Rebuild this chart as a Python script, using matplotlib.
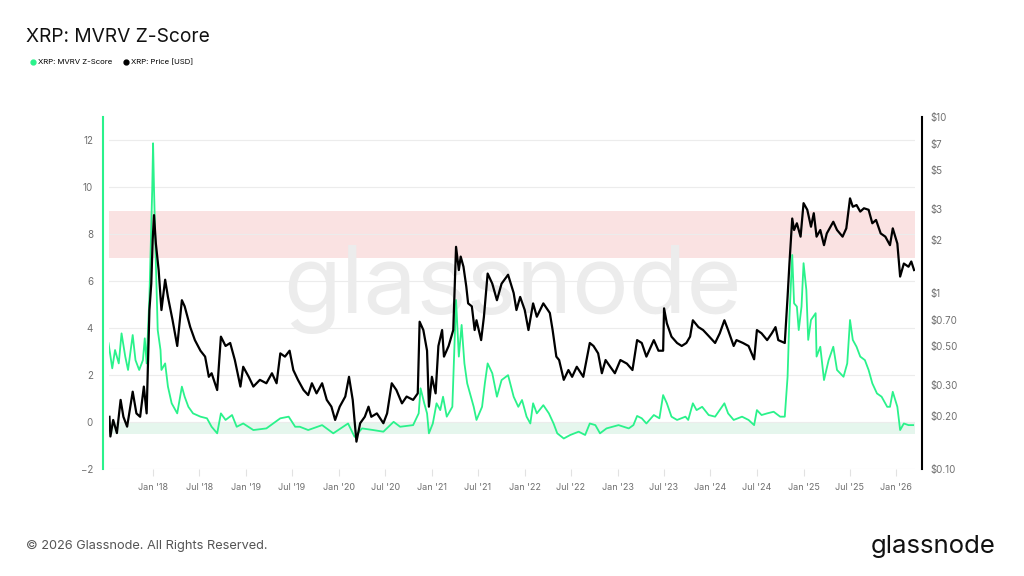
import datetime as dt

import matplotlib
matplotlib.use("Agg")
import matplotlib.pyplot as plt
import matplotlib.dates as mdates
from matplotlib.lines import Line2D

# ---- data (decimal year, value) ----
z_years = [
    2017.52, 2017.56, 2017.59, 2017.63, 2017.66, 2017.70, 2017.73, 2017.78, 2017.81, 2017.85,
    2017.89, 2017.91, 2017.93, 2017.96, 2017.99, 2018.00, 2018.01, 2018.03, 2018.05, 2018.08,
    2018.09, 2018.13, 2018.16, 2018.20, 2018.26, 2018.31, 2018.34, 2018.38, 2018.43, 2018.51,
    2018.58, 2018.63, 2018.69, 2018.73, 2018.78, 2018.85, 2018.90, 2018.97, 2019.08, 2019.22,
    2019.37, 2019.46, 2019.53, 2019.58, 2019.67, 2019.82, 2019.94, 2020.10, 2020.17, 2020.25,
    2020.37, 2020.48, 2020.59, 2020.66, 2020.80, 2020.86, 2020.88, 2020.92, 2020.95, 2020.97,
    2021.01, 2021.05, 2021.09, 2021.12, 2021.16, 2021.22, 2021.26, 2021.29, 2021.32, 2021.35,
    2021.38, 2021.41, 2021.45, 2021.48, 2021.54, 2021.57, 2021.60, 2021.65, 2021.70, 2021.75,
    2021.82, 2021.88, 2021.93, 2021.97, 2022.02, 2022.06, 2022.09, 2022.13, 2022.20, 2022.26,
    2022.31, 2022.35, 2022.42, 2022.49, 2022.58, 2022.65, 2022.70, 2022.76, 2022.81, 2022.88,
    2023.01, 2023.12, 2023.17, 2023.21, 2023.26, 2023.31, 2023.39, 2023.45, 2023.49, 2023.53,
    2023.58, 2023.64, 2023.73, 2023.76, 2023.81, 2023.85, 2023.91, 2023.98, 2024.05, 2024.15,
    2024.19, 2024.25, 2024.34, 2024.41, 2024.47, 2024.50, 2024.55, 2024.61, 2024.68, 2024.75,
    2024.80, 2024.83, 2024.85, 2024.88, 2024.90, 2024.93, 2024.95, 2024.98, 2025.00, 2025.03,
    2025.05, 2025.08, 2025.13, 2025.14, 2025.18, 2025.22, 2025.27, 2025.32, 2025.36, 2025.43,
    2025.47, 2025.50, 2025.53, 2025.57, 2025.61, 2025.66, 2025.70, 2025.74, 2025.79, 2025.84,
    2025.90, 2025.93, 2025.96, 2026.01, 2026.04, 2026.08, 2026.13, 2026.18,
]
z_score = [
    3.36, 2.29, 3.07, 2.50, 3.78, 2.79, 2.22, 3.71, 2.64, 2.22,
    2.64, 3.57, 2.50, 5.34, 9.89, 11.88, 9.96, 6.77, 3.92, 3.07,
    2.22, 2.50, 1.51, 0.80, 0.37, 1.51, 1.08, 0.65, 0.37, 0.23,
    0.16, -0.20, -0.48, 0.37, 0.09, 0.30, -0.20, -0.06, -0.34, -0.27,
    0.16, 0.23, -0.20, -0.20, -0.34, -0.13, -0.48, -0.06, -0.63, -0.27,
    -0.34, -0.41, 0.01, -0.20, -0.13, 0.37, 1.44, 0.80, 0.37, -0.48,
    -0.06, 0.80, 0.51, 1.08, 0.23, 0.65, 5.20, 2.79, 4.14, 2.50,
    1.65, 1.22, 0.65, 0.09, 0.65, 1.65, 2.50, 2.08, 1.08, 1.79,
    2.00, 1.08, 0.65, 0.94, 0.23, -0.06, 0.80, 0.37, 0.72, 0.37,
    -0.06, -0.48, -0.70, -0.55, -0.41, -0.55, -0.06, -0.13, -0.48, -0.27,
    -0.13, -0.27, -0.13, 0.26, 0.16, -0.06, 0.30, 0.16, 1.15, 0.80,
    0.23, 0.09, 0.23, 0.09, 0.80, 0.51, 0.65, 0.30, 0.23, 0.80,
    0.37, 0.09, 0.23, 0.09, -0.13, 0.51, 0.30, 0.37, 0.44, 0.23,
    0.23, 1.93, 4.49, 7.12, 5.06, 4.92, 3.92, 4.92, 6.77, 5.63,
    3.50, 4.35, 4.64, 2.79, 3.21, 1.79, 2.64, 3.21, 2.22, 1.93,
    2.50, 4.35, 3.50, 3.21, 2.79, 2.64, 2.22, 1.65, 1.22, 1.08,
    0.65, 0.65, 1.29, 0.65, -0.34, -0.06, -0.13, -0.13,
]

price_years = [
    2017.53, 2017.54, 2017.57, 2017.61, 2017.65, 2017.68, 2017.72, 2017.78, 2017.82, 2017.86,
    2017.90, 2017.93, 2017.96, 2017.98, 2017.995, 2018.01, 2018.03, 2018.06, 2018.09, 2018.13,
    2018.16, 2018.21, 2018.26, 2018.31, 2018.34, 2018.40, 2018.45, 2018.51, 2018.56, 2018.60,
    2018.63, 2018.69, 2018.73, 2018.78, 2018.83, 2018.88, 2018.94, 2018.97, 2019.03, 2019.08,
    2019.15, 2019.22, 2019.28, 2019.33, 2019.37, 2019.42, 2019.47, 2019.51, 2019.56, 2019.62,
    2019.67, 2019.71, 2019.76, 2019.82, 2019.87, 2019.92, 2019.96, 2020.01, 2020.07, 2020.11,
    2020.15, 2020.19, 2020.23, 2020.28, 2020.32, 2020.35, 2020.41, 2020.48, 2020.52, 2020.57,
    2020.62, 2020.68, 2020.73, 2020.80, 2020.85, 2020.87, 2020.91, 2020.95, 2020.97, 2021.00,
    2021.04, 2021.07, 2021.11, 2021.13, 2021.18, 2021.23, 2021.26, 2021.29, 2021.31, 2021.34,
    2021.37, 2021.39, 2021.43, 2021.46, 2021.48, 2021.53, 2021.56, 2021.60, 2021.65, 2021.70,
    2021.75, 2021.82, 2021.88, 2021.91, 2021.95, 2022.00, 2022.04, 2022.09, 2022.13, 2022.20,
    2022.27, 2022.30, 2022.34, 2022.37, 2022.42, 2022.47, 2022.51, 2022.56, 2022.63, 2022.70,
    2022.74, 2022.79, 2022.83, 2022.87, 2022.92, 2022.97, 2023.03, 2023.10, 2023.16, 2023.21,
    2023.26, 2023.31, 2023.39, 2023.44, 2023.49, 2023.50, 2023.53, 2023.58, 2023.64, 2023.69,
    2023.74, 2023.78, 2023.81, 2023.87, 2023.92, 2023.98, 2024.05, 2024.10, 2024.15, 2024.19,
    2024.25, 2024.28, 2024.35, 2024.41, 2024.47, 2024.50, 2024.55, 2024.61, 2024.66, 2024.70,
    2024.73, 2024.80, 2024.83, 2024.85, 2024.88, 2024.90, 2024.93, 2024.97, 2025.00, 2025.04,
    2025.08, 2025.11, 2025.14, 2025.18, 2025.22, 2025.25, 2025.32, 2025.36, 2025.42, 2025.46,
    2025.50, 2025.53, 2025.57, 2025.61, 2025.65, 2025.70, 2025.74, 2025.78, 2025.83, 2025.88,
    2025.93, 2025.96, 2026.01, 2026.04, 2026.08, 2026.13, 2026.16, 2026.19,
]
price_usd = [
    0.198, 0.153, 0.190, 0.160, 0.247, 0.198, 0.174, 0.275, 0.207, 0.198,
    0.294, 0.207, 0.80, 1.13, 2.00, 2.77, 1.91, 1.35, 0.80, 1.19,
    0.95, 0.70, 0.50, 0.91, 0.84, 0.64, 0.54, 0.47, 0.435, 0.334,
    0.35, 0.281, 0.565, 0.50, 0.52, 0.416, 0.294, 0.381, 0.334, 0.294,
    0.321, 0.307, 0.35, 0.307, 0.454, 0.435, 0.47, 0.365, 0.321, 0.281,
    0.263, 0.307, 0.269, 0.307, 0.247, 0.226, 0.190, 0.226, 0.258, 0.334,
    0.247, 0.143, 0.182, 0.198, 0.226, 0.198, 0.207, 0.182, 0.207, 0.307,
    0.281, 0.236, 0.258, 0.247, 0.269, 0.687, 0.616, 0.47, 0.226, 0.334,
    0.269, 0.50, 0.616, 0.435, 0.50, 0.616, 1.83, 1.35, 1.61, 1.41,
    1.09, 0.873, 0.84, 0.616, 0.70, 0.54, 0.733, 1.29, 1.13, 0.91,
    1.13, 1.27, 1.00, 0.80, 0.95, 0.80, 0.616, 0.873, 0.733, 0.873,
    0.77, 0.616, 0.435, 0.416, 0.321, 0.365, 0.334, 0.381, 0.334, 0.52,
    0.50, 0.454, 0.35, 0.416, 0.381, 0.35, 0.416, 0.397, 0.365, 0.54,
    0.52, 0.435, 0.54, 0.47, 0.47, 0.818, 0.673, 0.565, 0.52, 0.50,
    0.52, 0.565, 0.70, 0.64, 0.616, 0.57, 0.52, 0.59, 0.70, 0.616,
    0.50, 0.54, 0.52, 0.50, 0.42, 0.616, 0.59, 0.54, 0.59, 0.64,
    0.54, 0.52, 0.95, 1.47, 2.65, 2.28, 2.49, 2.09, 3.24, 2.97,
    2.38, 2.84, 2.09, 2.28, 1.87, 2.18, 2.54, 2.28, 2.09, 2.33,
    3.45, 3.09, 3.16, 2.90, 3.03, 2.97, 2.49, 2.60, 2.18, 2.09,
    1.87, 2.33, 1.91, 1.24, 1.47, 1.41, 1.51, 1.35,
]

z_ticks = [-2, 0, 2, 4, 6, 8, 10, 12]
price_ticks = [0.1, 0.2, 0.3, 0.5, 0.7, 1, 2, 3, 5, 7, 10]
price_tick_labels = ["$0.10", "$0.20", "$0.30", "$0.50", "$0.70", "$1",
                     "$2", "$3", "$5", "$7", "$10"]

GREEN = "#2af28b"
GRAY = "#6f6f6f"
FONT = "Inter"


def to_dates(years):
    out = []
    for y in years:
        base = dt.datetime(int(y), 1, 1)
        out.append(base + dt.timedelta(days=(y - int(y)) * 365.25))
    return out


plt.rcParams["font.family"] = [FONT, "DejaVu Sans"]

fig = plt.figure(figsize=(10.24, 5.76), dpi=100)
ax = fig.add_axes([109 / 1024, 1 - 469 / 576, (915 - 109) / 1024, (469 - 117) / 576])
ax2 = ax.twinx()

# bands + watermark
ax.axhspan(7, 9, color="#f0a0a0", alpha=0.3, lw=0, zorder=0.5)
ax.axhspan(-0.5, 0, color="#7fd6a8", alpha=0.2, lw=0, zorder=0.5)
ax.text(0.5, 0.51, "glassnode", transform=ax.transAxes, ha="center", va="center",
        fontsize=68, color="#ececec", zorder=0.6)

ax.plot(to_dates(z_years), z_score, color=GREEN, lw=1.3, zorder=2)
ax2.plot(to_dates(price_years), price_usd, color="black", lw=1.6, zorder=3)

# left axis
ax.set_ylim(-2, 13)
ax.set_yticks(z_ticks)
ax.yaxis.grid(True, color="#ececec", lw=0.8, zorder=0.4)
ax.set_axisbelow(True)
ax.tick_params(axis="y", length=0, pad=7, labelsize=7, labelcolor=GRAY)

# right axis
ax2.set_yscale("log")
ax2.set_ylim(0.1, 10)
ax2.set_yticks(price_ticks)
ax2.set_yticklabels(price_tick_labels)
ax2.yaxis.set_minor_locator(matplotlib.ticker.NullLocator())
ax2.tick_params(axis="y", length=0, pad=6, labelsize=7, labelcolor=GRAY)

# x axis
ax.set_xlim(to_dates([2017.525, 2026.20]))
ax.xaxis.set_major_locator(mdates.MonthLocator(bymonth=[1, 7]))
ax.xaxis.set_major_formatter(mdates.DateFormatter("%b '%y"))
ax.tick_params(axis="x", length=5, width=0.8, color="#e2e2e2", pad=5,
               labelsize=6.5, labelcolor=GRAY)

for a in (ax, ax2):
    for s in ("top", "bottom", "left", "right"):
        a.spines[s].set_visible(False)
ax.spines["left"].set_visible(True)
ax.spines["left"].set_color(GREEN)
ax.spines["left"].set_linewidth(1.5)
ax.spines["left"].set_position(("outward", 4.5))
ax2.spines["right"].set_visible(True)
ax2.spines["right"].set_color("black")
ax2.spines["right"].set_linewidth(1.5)
ax2.spines["right"].set_position(("outward", 5))

# title, legend, footer
fig.text(26 / 1024, 1 - 42 / 576, "XRP: MVRV Z-Score", fontsize=13.8, color="#111111",
         va="baseline")
handles = [
    Line2D([], [], marker="o", ls="", color=GREEN, markersize=3.5),
    Line2D([], [], marker="o", ls="", color="black", markersize=3.5),
]
fig.legend(handles, ["XRP: MVRV Z-Score", "XRP: Price [USD]"], loc="center left",
           bbox_to_anchor=(31 / 1024, 1 - 62 / 576), ncol=2, frameon=False,
           fontsize=5.6, handlelength=0.5, handletextpad=0.35, columnspacing=1.6,
           borderaxespad=0, borderpad=0)
fig.text(26 / 1024, 1 - 546 / 576, "\u00a9 2026 Glassnode. All Rights Reserved.",
         fontsize=9.2, color="#555555", va="center")
fig.text(996 / 1024, 1 - 553 / 576, "glassnode", fontsize=18.5, color="#111111",
         ha="right", va="baseline")

fig.savefig("out.png", dpi=100, facecolor="white")
